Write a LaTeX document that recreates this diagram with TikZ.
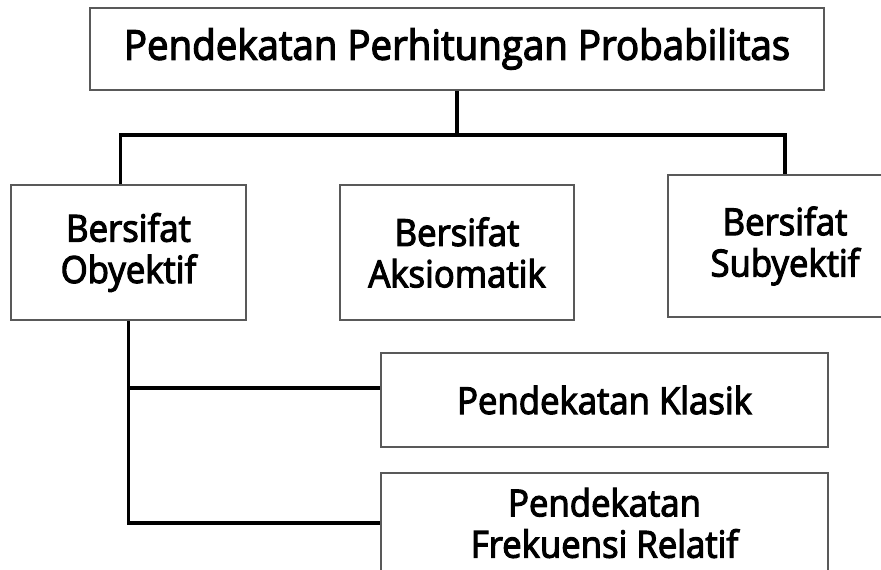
\documentclass[tikz,border=0pt]{standalone}
\usepackage{fontspec}
\setmainfont{Open Sans}[FakeStretch=0.93, UprightFeatures={FakeBold=3}]
\usetikzlibrary{positioning}
\tikzset{
  box/.style={draw=black!65, line width=1.5pt, fill=white, align=center, inner sep=2pt, font=\fontsize{28}{31}\selectfont},
  link/.style={draw=black, line width=2.3pt}
}

\begin{document}
\begin{tikzpicture}[x=0.75pt, y=-0.75pt]
  \useasboundingbox (0,0) rectangle (881,570);
  \clip (0,0) rectangle (881,570);
  \fill[white] (0,0) rectangle (881,570);

  \node[box, minimum width=550pt, minimum height=61.5pt, font=\fontsize{31}{34}\selectfont] (title) at (457,49) {Pendekatan Perhitungan Probabilitas};
  \node[box, minimum width=176pt, minimum height=101pt] (obj) at (128.5,252.5) {Bersifat\\Obyektif};
  \node[box, minimum width=176pt, minimum height=101pt] (aks) at (457,252.5) {Bersifat\\Aksiomatik};
  \node[box, minimum width=176pt, minimum height=107pt] (sub) at (785,246) {Bersifat\\Subyektif};
  \node[box, minimum width=335pt, minimum height=70.5pt] (klas) at (604.5,400) {Pendekatan Klasik};
  \node[box, minimum width=335pt, minimum height=75pt, below=18pt of klas] (frek) {Pendekatan\\Frekuensi Relatif};

  \coordinate (bar) at (457,135);
  \draw[link] (title.south) -- (bar);
  \draw[link] ([xshift=-6pt]obj.north) |- (bar) -| (sub.north);
  \draw[link] (obj.south) |- ([yshift=9pt]klas.west);
  \draw[link] (obj.south) |- (frek.west);
\end{tikzpicture}
\end{document}
